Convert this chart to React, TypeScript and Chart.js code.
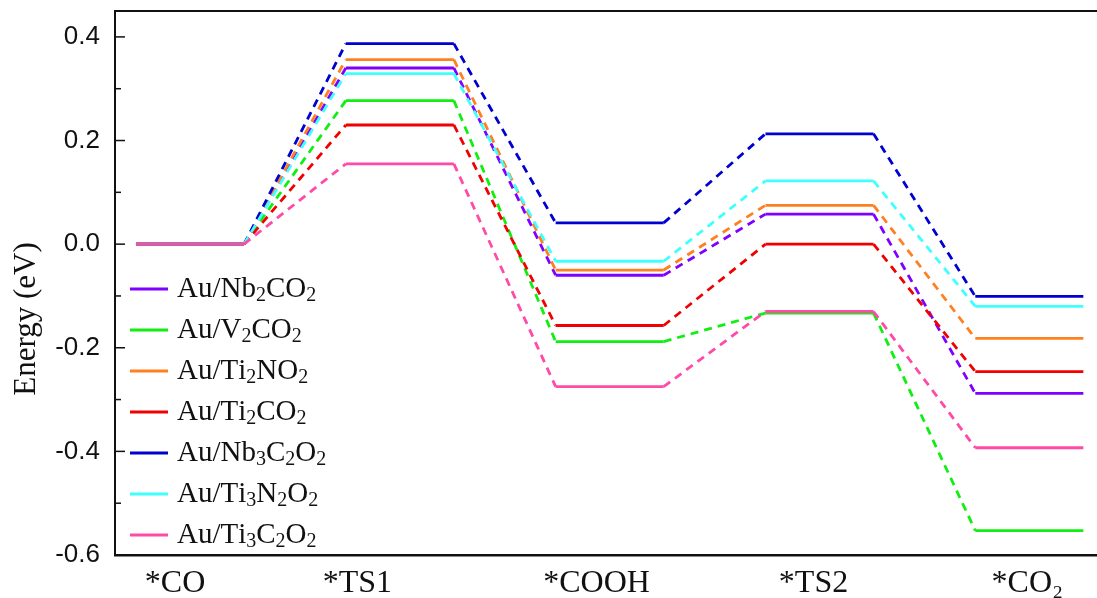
import React, { useEffect, useRef } from "react";
import { Chart, registerables } from "chart.js";

Chart.register(...registerables);

// Reaction steps (x-axis categories) and where their labels sit on the reaction coordinate
const steps = ["*CO", "*TS1", "*COOH", "*TS2", "*CO₂"];
const stepLabelPos = [0.286, 1.155, 2.295, 3.329, 4.348];

// Energy levels (eV) for each catalyst, one value per step
const nb2co2 = [0, 0.34, -0.06, 0.058, -0.288];
const v2co2 = [0, 0.277, -0.188, -0.133, -0.553];
const ti2no2 = [0, 0.356, -0.05, 0.075, -0.182];
const ti2co2 = [0, 0.23, -0.157, 0.0, -0.246];
const nb3c2o2 = [0, 0.387, 0.041, 0.213, -0.101];
const ti3n2o2 = [0, 0.329, -0.033, 0.122, -0.12];
const ti3c2o2 = [0, 0.155, -0.275, -0.13, -0.393];

const seriesNames = [
  "Au/Nb₂CO₂",
  "Au/V₂CO₂",
  "Au/Ti₂NO₂",
  "Au/Ti₂CO₂",
  "Au/Nb₃C₂O₂",
  "Au/Ti₃N₂O₂",
  "Au/Ti₃C₂O₂",
];
const seriesValues = [nb2co2, v2co2, ti2no2, ti2co2, nb3c2o2, ti3n2o2, ti3c2o2];
const seriesColors = ["#8000ff", "#11ee11", "#ff8020", "#f00000", "#0000d0", "#40ffff", "#ff4aa6"];

// y-axis tick labels
const yTicks = [-0.6, -0.4, -0.2, 0, 0.2, 0.4];

const SERIF = "'Liberation Serif', 'Times New Roman', serif";
const SANS = "'Liberation Sans', Arial, sans-serif";

const SUB: Record<string, string> = { "₀": "0", "₁": "1", "₂": "2", "₃": "3", "₄": "4" };

function drawRich(ctx: CanvasRenderingContext2D, text: string, x: number, y: number, size: number) {
  let cx = x;
  for (const ch of Array.from(text)) {
    if (SUB[ch]) {
      ctx.font = `${Math.round(size * 0.68)}px ${SERIF}`;
      ctx.fillText(SUB[ch], cx, y + size * 0.22);
      cx += ctx.measureText(SUB[ch]).width;
    } else {
      ctx.font = `${size}px ${SERIF}`;
      ctx.fillText(ch, cx, y);
      cx += ctx.measureText(ch).width;
    }
  }
}

const decorPlugin = {
  id: "decor",
  afterDraw(chart: any) {
    const { ctx, chartArea, scales } = chart;
    const y = scales.y;
    ctx.save();
    // top frame line
    ctx.strokeStyle = "#111";
    ctx.lineWidth = 2;
    ctx.beginPath();
    ctx.moveTo(chartArea.left, chartArea.top);
    ctx.lineTo(chart.width, chartArea.top);
    ctx.stroke();
    // inward ticks on left axis
    ctx.lineWidth = 1.5;
    for (let k = -6; k <= 4; k++) {
      const v = k / 10;
      const py = y.getPixelForValue(v);
      const len = k % 2 === 0 ? 10 : 6;
      ctx.beginPath();
      ctx.moveTo(chartArea.left, py);
      ctx.lineTo(chartArea.left + len, py);
      ctx.stroke();
    }
    // y axis title
    ctx.fillStyle = "#111";
    ctx.translate(27, 319);
    ctx.rotate(-Math.PI / 2);
    ctx.textAlign = "center";
    ctx.textBaseline = "middle";
    ctx.font = `31px ${SERIF}`;
    ctx.fillText("Energy (eV)", 0, 0);
    ctx.restore();

    // legend
    ctx.save();
    ctx.textAlign = "left";
    ctx.textBaseline = "middle";
    ctx.fillStyle = "#111";
    seriesNames.forEach((name, i) => {
      const ry = 289 + i * 41;
      ctx.strokeStyle = seriesColors[i];
      ctx.lineWidth = 3;
      ctx.beginPath();
      ctx.moveTo(130, ry);
      ctx.lineTo(168, ry);
      ctx.stroke();
      drawRich(ctx, name, 177, ry, 29);
    });
    ctx.restore();
  },
};

export default function App() {
  const ref = useRef<HTMLCanvasElement | null>(null);

  useEffect(() => {
    if (!ref.current) return;
    const datasets = seriesValues.map((vals, i) => ({
      label: seriesNames[i],
      data: vals.flatMap((v, s) => [
        { x: s + 0.1, y: v },
        { x: s + 0.615, y: v },
      ]),
      borderColor: seriesColors[i],
      backgroundColor: seriesColors[i],
      borderWidth: 2.8,
      pointRadius: 0,
      fill: false,
      tension: 0,
      order: seriesValues.length - i,
      segment: {
        borderDash: (c: any) => (c.p0DataIndex % 2 === 1 ? [8, 6] : undefined),
      },
    }));

    const chart = new Chart(ref.current, {
      type: "line",
      data: { datasets },
      options: {
        animation: false,
        responsive: true,
        maintainAspectRatio: false,
        layout: { padding: { top: 11, right: 0, left: 0, bottom: 0 } },
        plugins: { legend: { display: false }, tooltip: { enabled: false } },
        scales: {
          x: {
            type: "linear",
            min: 0,
            max: 4.68,
            afterBuildTicks: (s: any) => {
              s.ticks = stepLabelPos.map((v) => ({ value: v }));
            },
            afterFit: (s: any) => {
              s.height = 43;
              s.paddingLeft = 0;
              s.paddingRight = 0;
            },
            grid: { display: false, drawTicks: false },
            border: { display: true, color: "#111", width: 2.5 },
            ticks: {
              autoSkip: false,
              maxRotation: 0,
              padding: 9,
              color: "#111",
              font: { family: SERIF, size: 32 },
              callback: (_v: any, i: number) => steps[i],
            },
          },
          y: {
            min: -0.6,
            max: 0.45,
            afterBuildTicks: (s: any) => {
              s.ticks = yTicks.map((v) => ({ value: v }));
            },
            afterFit: (s: any) => {
              s.width = 115;
              s.paddingTop = 0;
              s.paddingBottom = 0;
            },
            grid: { display: false, drawTicks: false },
            border: { display: true, color: "#111", width: 2 },
            ticks: {
              padding: 15,
              color: "#111",
              font: { family: SANS, size: 26 },
              callback: (v: any) => Number(v).toFixed(1),
            },
          },
        },
      },
      plugins: [decorPlugin],
    });
    return () => chart.destroy();
  }, []);

  return (
    <div style={{ position: "fixed", left: 0, top: 0, width: 1097, height: 598, background: "#fff" }}>
      <canvas ref={ref} />
    </div>
  );
}
